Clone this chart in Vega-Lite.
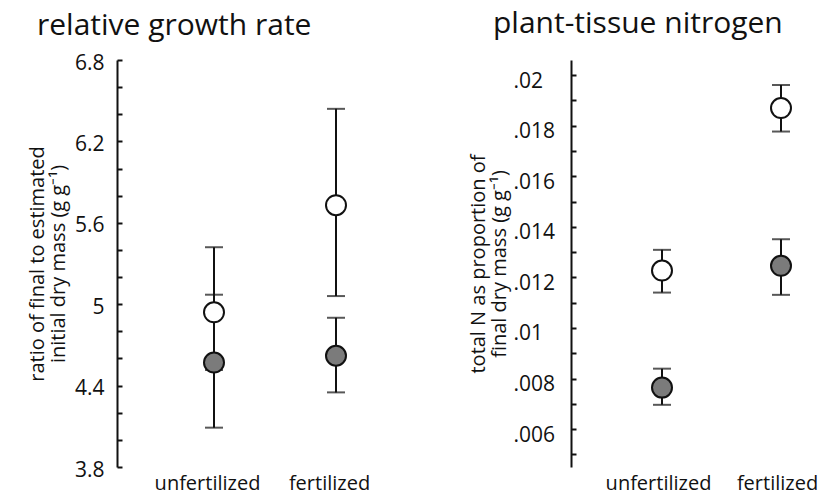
{
  "$schema": "https://vega.github.io/schema/vega-lite/v6.json",
  "padding": {"left": 27, "top": 9, "right": 0, "bottom": 6},
  "config": {
    "view": {"stroke": null},
    "font": "Open Sans",
    "title": {"fontSize": 30, "fontWeight": "normal", "font": "Open Sans", "color": "#111"},
    "axis": {"labelColor": "#111", "titleColor": "#111", "domainColor": "#111", "tickColor": "#111"}
  },
  "datasets": {
    "rgr": [
      {"treatment": "unfertilized", "group": "open", "mean": 4.94, "lo": 4.515, "hi": 5.42},
      {"treatment": "fertilized", "group": "open", "mean": 5.73, "lo": 5.06, "hi": 6.44},
      {"treatment": "unfertilized", "group": "filled", "mean": 4.57, "lo": 4.09, "hi": 5.07},
      {"treatment": "fertilized", "group": "filled", "mean": 4.62, "lo": 4.35, "hi": 4.9}
    ],
    "nitrogen": [
      {"treatment": "unfertilized", "group": "open", "mean": 0.01227, "lo": 0.0114, "hi": 0.01309},
      {"treatment": "fertilized", "group": "open", "mean": 0.0187, "lo": 0.01777, "hi": 0.01961},
      {"treatment": "unfertilized", "group": "filled", "mean": 0.00764, "lo": 0.00696, "hi": 0.00839},
      {"treatment": "fertilized", "group": "filled", "mean": 0.01246, "lo": 0.01131, "hi": 0.01351}
    ]
  },
  "spacing": 86,
  "hconcat": [
    {
      "width": 265,
      "height": 407,
      "title": {"text": "relative growth rate", "anchor": "start", "frame": "group", "dx": -80, "offset": 11},
      "data": {"name": "rgr"},
      "encoding": {
        "x": {
          "field": "treatment", "type": "nominal", "sort": ["unfertilized", "fertilized"],
          "scale": {"type": "point", "range": [97, 219], "padding": 0},
          "axis": {"title": null, "domain": false, "ticks": false, "labelAngle": 0, "labelFontSize": 20, "labelPadding": 6, "labelOffset": -7}
        }
      },
      "layer": [
        {
          "mark": {"type": "rule", "strokeWidth": 2, "color": "#111"},
          "encoding": {
            "y": {
              "field": "lo", "type": "quantitative",
              "scale": {"domain": [3.8, 6.8], "nice": false, "zero": false},
              "axis": {
                "title": ["ratio of final to estimated", "initial dry mass (g g⁻¹)"],
                "titleFontSize": 20, "titleFontWeight": "normal", "titleLineHeight": 21, "titleX": -70,
                "values": [3.8, 4.0, 4.2, 4.4, 4.6, 4.8, 5.0, 5.2, 5.4, 5.6, 5.8, 6.0, 6.2, 6.4, 6.6, 6.8],
                "tickCount": 40,
                "labelExpr": "round(datum.value*5) % 3 == 1 ? format(datum.value, '.1~f') : ''",
                "labelFontSize": 21, "labelPadding": 18, "labelOverlap": false, "labelFlush": false, "labelOffset": 3,
                "grid": false, "domainWidth": 2, "tickWidth": 2, "tickSize": -5
              }
            },
            "y2": {"field": "hi"}
          }
        },
        {
          "mark": {"type": "tick", "thickness": 2, "size": 18, "color": "#111"},
          "encoding": {"y": {"field": "lo", "type": "quantitative"}}
        },
        {
          "mark": {"type": "tick", "thickness": 2, "size": 18, "color": "#111"},
          "encoding": {"y": {"field": "hi", "type": "quantitative"}}
        },
        {
          "mark": {"type": "point", "filled": true, "size": 400, "stroke": "#111", "strokeWidth": 2, "opacity": 1},
          "encoding": {
            "y": {"field": "mean", "type": "quantitative"},
            "fill": {"field": "group", "type": "nominal", "scale": {"domain": ["open", "filled"], "range": ["#ffffff", "#7b7b7b"]}, "legend": null},
            "order": {"field": "group", "sort": "descending"}
          }
        }
      ]
    },
    {
      "width": 255,
      "height": 407,
      "title": {"text": "plant-tissue nitrogen", "anchor": "start", "frame": "group", "dx": -78, "offset": 21},
      "data": {"name": "nitrogen"},
      "encoding": {
        "x": {
          "field": "treatment", "type": "nominal", "sort": ["unfertilized", "fertilized"],
          "scale": {"type": "point", "range": [91, 210], "padding": 0},
          "axis": {"title": null, "domain": false, "ticks": false, "labelAngle": 0, "labelFontSize": 20, "labelPadding": 6, "labelOffset": -4}
        }
      },
      "layer": [
        {
          "mark": {"type": "rule", "strokeWidth": 2, "color": "#111"},
          "encoding": {
            "y": {
              "field": "lo", "type": "quantitative",
              "scale": {"domain": [0.0045, 0.0206], "nice": false, "zero": false},
              "axis": {
                "title": ["total N as proportion of", "final dry mass (g g⁻¹)"],
                "titleFontSize": 20, "titleFontWeight": "normal", "titleLineHeight": 21, "titleX": -83,
                "values": [0.005, 0.006, 0.007, 0.008, 0.009, 0.01, 0.011, 0.012, 0.013, 0.014, 0.015, 0.016, 0.017, 0.018, 0.019, 0.02],
                "tickCount": 40,
                "labelExpr": "round(datum.value*1000) % 2 == 0 ? slice(format(datum.value, '.3~f'), 1) : ''",
                "labelFontSize": 21, "labelAlign": "left", "labelPadding": 63, "labelOverlap": false, "labelFlush": false, "labelOffset": 6,
                "grid": false, "domainWidth": 2, "tickWidth": 2, "tickSize": -5
              }
            },
            "y2": {"field": "hi"}
          }
        },
        {
          "mark": {"type": "tick", "thickness": 2, "size": 18, "color": "#111"},
          "encoding": {"y": {"field": "lo", "type": "quantitative"}}
        },
        {
          "mark": {"type": "tick", "thickness": 2, "size": 18, "color": "#111"},
          "encoding": {"y": {"field": "hi", "type": "quantitative"}}
        },
        {
          "mark": {"type": "point", "filled": true, "size": 400, "stroke": "#111", "strokeWidth": 2, "opacity": 1},
          "encoding": {
            "y": {"field": "mean", "type": "quantitative"},
            "fill": {"field": "group", "type": "nominal", "scale": {"domain": ["open", "filled"], "range": ["#ffffff", "#7b7b7b"]}, "legend": null},
            "order": {"field": "group", "sort": "descending"}
          }
        }
      ]
    }
  ]
}
